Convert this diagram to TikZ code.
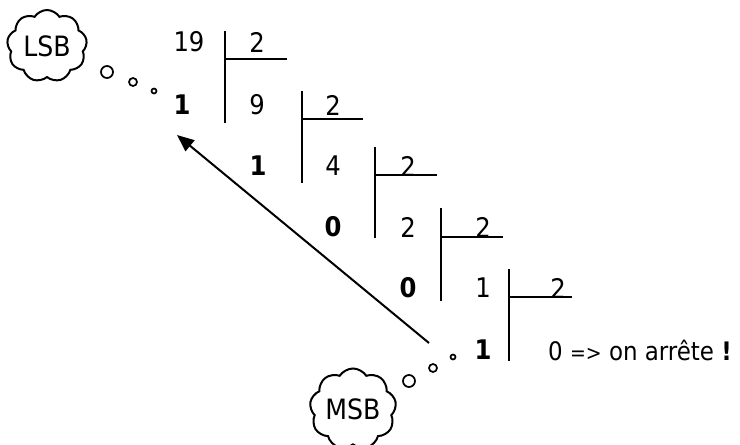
\documentclass[tikz,border=0pt]{standalone}
\usepackage{fontspec}
\setmainfont{DejaVu Sans Condensed}
\usetikzlibrary{shapes.symbols,arrows.meta}
\begin{document}
\begin{tikzpicture}[x=1pt,y=-1pt,
  num/.style={inner sep=0pt,font=\fontsize{27}{30}\selectfont},
  rem/.style={inner sep=0pt,font=\fontsize{27}{30}\selectfont\bfseries},
  bar/.style={line width=2pt},
  thought/.style={cloud,cloud puffs=9,cloud puff arc=115,aspect=1.1,draw,
    line width=2pt,minimum width=80pt,minimum height=72pt,inner sep=0pt,
    font=\fontsize{28}{30}\selectfont},
  bubble/.style={circle,draw,line width=1.7pt,inner sep=0pt}]
\useasboundingbox (0,0) rectangle (740,445);

% successive divisions by 2
\node[num] (n19) at (189,42) {19};
\node[num] (d1) at (257,42) {2};
\node[rem] (r1) at (182,105) {1};
\node[num] (n9) at (257,105) {9};
\node[num] (d2) at (333,105) {2};
\node[rem] (r2) at (258,166) {1};
\node[num] (n4) at (333,166) {4};
\node[num] (d3) at (408,166) {2};
\node[rem] (r3) at (333,227) {0};
\node[num] (n2) at (408,227) {2};
\node[num] (d4) at (483,227) {2};
\node[rem] (r4) at (408,288) {0};
\node[num] (n1) at (483,288) {1};
\node[num] (d5) at (558,288) {2};
\node[rem] (r5) at (483,350) {1};
\node[inner sep=0pt,anchor=west,font=\fontsize{25.5}{30}\selectfont] (stop) at (548,350)
  {0 {\fontsize{21}{26}\selectfont=>} on arrête \textbf{!}};

% division brackets
\draw[bar] (225,31) -- (225,123) (225,59) -- (287,59);
\draw[bar] (302,91) -- (302,183) (302,119) -- (363,119);
\draw[bar] (375,147) -- (375,238) (375,175) -- (437,175);
\draw[bar] (441,208) -- (441,301) (441,237) -- (503,237);
\draw[bar] (509,269) -- (509,361) (509,297) -- (572,297);

% reading direction of the remainders
\coordinate (tail) at (429,343);
\coordinate (tip) at (177,135);
\draw[line width=2pt,-{Triangle[length=17pt,width=14pt]}] (tail) -- (tip);

% thought clouds
\node[thought] (lsb) at (47,46) {LSB};
\node[bubble,minimum size=12pt] (l1) at (107,72) {};
\node[bubble,minimum size=8pt] (l2) at (133,82) {};
\node[bubble,minimum size=5pt] (l3) at (154,91) {};

\node[thought] (msb) at (353,409) {MSB};
\node[bubble,minimum size=12pt] (m1) at (409,381) {};
\node[bubble,minimum size=8pt] (m2) at (433,368) {};
\node[bubble,minimum size=5pt] (m3) at (453,357) {};
\end{tikzpicture}
\end{document}
